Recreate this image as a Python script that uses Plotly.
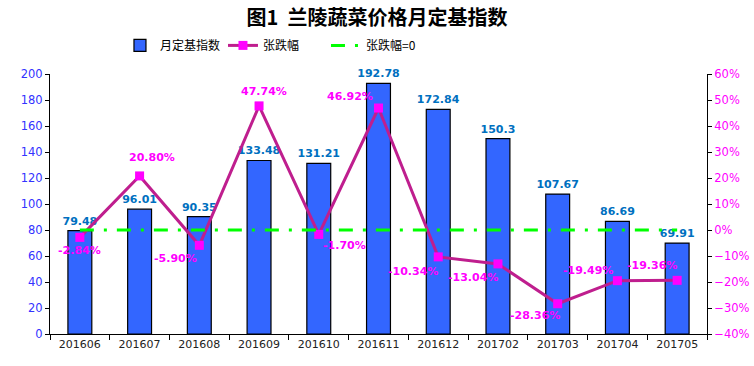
import plotly.graph_objects as go

categories = ["201606", "201607", "201608", "201609", "201610", "201611",
              "201612", "201702", "201703", "201704", "201705"]
index_values = [79.48, 96.01, 90.35, 133.48, 131.21, 192.78, 172.84, 150.3, 107.67, 86.69, 69.91]
change_pct = [-2.84, 20.80, -5.90, 47.74, -1.70, 46.92, -10.34, -13.04, -28.36, -19.49, -19.36]
zero_line = [0] * len(categories)
label_shift_x = [0, 12, -24, 5, 26, -29, -25, -25, -23, -29, -25]
label_shift_y = [-13, 18, -13, 14, -11, 12, -15, -14, -12, 10, 15]

change = [v / 100 for v in change_pct]
zero_frac = [v / 100 for v in zero_line]

FONT = "DejaVu Sans, Noto Sans CJK SC, sans-serif"
CJK = "Noto Sans CJK SC, sans-serif"

fig = go.Figure()
fig.add_trace(go.Bar(
    x=categories, y=index_values, name="月定基指数",
    marker=dict(color="#3366FF", line=dict(color="black", width=1.2)),
    width=0.4,
    text=[f"{v:g}" for v in index_values], textposition="outside",
    constraintext="none",
    outsidetextfont=dict(color="#0070C0", size=11, family=FONT, weight="bold"),
    cliponaxis=False,
))
fig.add_trace(go.Scatter(
    x=categories, y=change, name="张跌幅", yaxis="y2",
    mode="lines+markers",
    line=dict(color="#BF1E8E", width=3),
    marker=dict(symbol="square", size=9, color="#FF00FF"),
))
fig.add_trace(go.Scatter(
    x=categories, y=zero_frac, name="张跌幅=0", yaxis="y2",
    mode="lines",
    line=dict(color="#00FF00", width=3, dash="14px,10px,3px,10px"),
))

for i, (v, dx, dy) in enumerate(zip(change, label_shift_x, label_shift_y)):
    fig.add_annotation(
        x=i, y=v, xref="x", yref="y2", text=f"{v*100:.2f}%",
        showarrow=False, xshift=dx, yshift=dy,
        font=dict(color="#FF00FF", size=11, family=FONT, weight="bold"),
    )

fig.update_layout(
    width=754, height=366,
    margin=dict(l=50, r=47, t=74, b=32),
    plot_bgcolor="white", paper_bgcolor="white",
    font=dict(family=FONT, size=11, color="black"),
    title=dict(text="<b>图1  兰陵蔬菜价格月定基指数</b>", x=0.5, xanchor="center",
               y=0.95, yanchor="middle",
               font=dict(size=20, family=CJK, color="black")),
    legend=dict(orientation="h", x=0.1065, xanchor="left", y=1.11, yanchor="middle",
                font=dict(size=12, family=CJK),
                itemwidth=30, tracegroupgap=0, entrywidth=58),
    bargap=0.6,
    xaxis=dict(type="category", categoryorder="array", categoryarray=categories,
               range=[-0.5, len(categories) - 0.5], autorange=False, automargin=False,
               showline=True, linecolor="black", linewidth=1,
               ticks="outside", tickson="boundaries", ticklen=5, tickcolor="black",
               showgrid=False, tickangle=0, tickfont=dict(size=11, color="#222222")),
    yaxis=dict(range=[0, 200], dtick=20, showline=True, linecolor="black", linewidth=1,
               ticks="outside", ticklen=4, tickcolor="black", showgrid=False, automargin=False,
               zeroline=False, tickfont=dict(size=11.5, color="#3333FF")),
    yaxis2=dict(range=[-0.4, 0.6], dtick=0.1, tickformat=".0%", overlaying="y",
                side="right", showline=True, linecolor="black", linewidth=1, automargin=False,
                ticks="outside", ticklen=4, tickcolor="black", showgrid=False,
                zeroline=False, tickfont=dict(size=11.5, color="#FF00FF")),
)

fig.write_html("out.html", config={"displayModeBar": False},
               post_script="document.body.style.margin='0';")
